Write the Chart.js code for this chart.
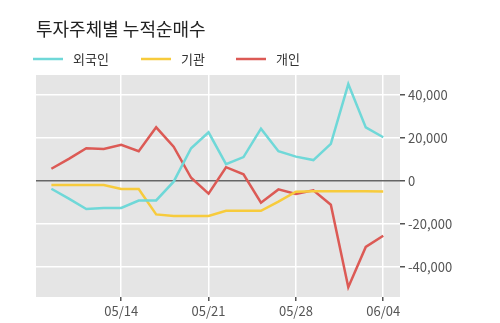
<!DOCTYPE html>
<html>
<head>
<meta charset="utf-8">
<script src="https://cdn.jsdelivr.net/npm/chart.js@4"></script>
<style>
    html, body { margin: 0; padding: 0; background: #fff; }
    #wrap { width: 500px; height: 323px; }
</style>
</head>
<body>
<div id="wrap"><canvas id="flowChart" width="500" height="323"></canvas></div>
<script>
const dates = ['05/08', '05/09', '05/10', '05/11', '05/14', '05/15', '05/16', '05/17', '05/18', '05/21',
    '05/22', '05/23', '05/24', '05/25', '05/28', '05/29', '05/30', '05/31', '06/01', '06/04'];
const tickDates = ['05/14', '05/21', '05/28', '06/04'];

const foreign = [-3600, -8200, -13000, -12500, -12500, -9100, -9000, -300, 15200, 22600,
    7800, 11100, 24300, 13800, 11300, 9700, 17200, 45000, 24900, 20300];
const institution = [-1900, -1900, -1900, -1900, -3700, -3700, -15500, -16200, -16200, -16200,
    -13800, -13800, -13800, -9600, -5000, -4800, -4800, -4800, -4800, -4900];
const individual = [5700, 10300, 15200, 14900, 16800, 13800, 24900, 15900, 1500, -5900,
    6400, 3100, -10100, -3900, -6000, -4300, -11000, -49300, -30600, -25400];

const yTicks = [-40000, -20000, 0, 20000, 40000];

const font = '"Noto Sans CJK KR", "Noto Sans", sans-serif';
const legendX = [33, 141, 236]; // where each legend swatch starts

function toPoints(arr) {
    return arr.map((v, i) => ({ x: i, y: v }));
}

// grey panel behind the lines
const panelBg = {
    id: 'panelBg',
    beforeDraw(chart) {
        const a = chart.chartArea;
        const ctx = chart.ctx;
        ctx.save();
        ctx.fillStyle = '#e5e5e5';
        ctx.fillRect(a.left, a.top, a.right - a.left, a.bottom - a.top);
        ctx.restore();
    }
};

// title + legend row, drawn by hand so they sit where the original has them
const header = {
    id: 'header',
    afterDraw(chart) {
        const ctx = chart.ctx;
        ctx.save();
        ctx.textBaseline = 'middle';
        ctx.fillStyle = '#222';
        ctx.font = '18px ' + font;
        ctx.fillText('투자주체별 누적순매수', 36, 29);

        ctx.font = '13px ' + font;
        chart.data.datasets.forEach((ds, i) => {
            const x = legendX[i];
            ctx.strokeStyle = ds.borderColor;
            ctx.lineWidth = 2.5;
            ctx.beginPath();
            ctx.moveTo(x, 59);
            ctx.lineTo(x + 30, 59);
            ctx.stroke();
            ctx.fillStyle = '#333';
            ctx.fillText(ds.label, x + 40, 59);
        });
        ctx.restore();
    }
};

const ctx = document.getElementById('flowChart').getContext('2d');

new Chart(ctx, {
    type: 'line',
    data: {
        datasets: [{
            label: '외국인',
            data: toPoints(foreign),
            borderColor: '#6fd8d8',
            borderWidth: 2.5
        }, {
            label: '기관',
            data: toPoints(institution),
            borderColor: '#f7cb3c',
            borderWidth: 2.5
        }, {
            label: '개인',
            data: toPoints(individual),
            borderColor: '#dc5a55',
            borderWidth: 2.5
        }]
    },
    options: {
        responsive: false,
        animation: false,
        layout: { padding: { left: 36, top: 75, right: 0, bottom: 0 } },
        elements: {
            point: { radius: 0 },
            line: { tension: 0 }
        },
        plugins: {
            title: { display: false },
            legend: { display: false },
            tooltip: { enabled: false }
        },
        scales: {
            x: {
                type: 'linear',
                min: -0.88,
                max: 19.96,
                afterBuildTicks: axis => {
                    axis.ticks = tickDates.map(d => ({ value: dates.indexOf(d) }));
                },
                afterFit: axis => { axis.height = 26; },
                grid: { color: '#fff', lineWidth: 1.5, tickColor: '#555', tickLength: 4 },
                border: { display: false },
                ticks: {
                    color: '#555',
                    font: { family: font, size: 13 },
                    padding: 2,
                    maxRotation: 0,
                    callback: v => dates[v]
                }
            },
            y: {
                position: 'right',
                min: -53830,
                max: 49190,
                afterBuildTicks: axis => {
                    axis.ticks = yTicks.map(v => ({ value: v }));
                },
                afterFit: axis => { axis.width = 100; },
                grid: {
                    color: c => c.tick && c.tick.value === 0 ? '#666' : '#fff',
                    lineWidth: 1.5,
                    tickColor: '#555',
                    tickLength: 5
                },
                border: { display: false },
                ticks: {
                    color: '#555',
                    font: { family: font, size: 13 },
                    padding: 3,
                    callback: v => v.toLocaleString('en-US')
                }
            }
        }
    },
    plugins: [panelBg, header]
});
</script>
</body>
</html>
